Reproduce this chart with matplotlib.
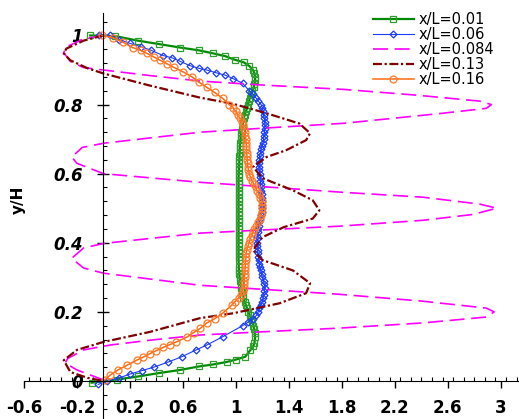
import matplotlib
matplotlib.use('Agg')
import matplotlib.pyplot as plt
import numpy as np
from matplotlib.ticker import MultipleLocator, FormatStrFormatter

# x/L = 0.01
x1 = [-0.1, 0.09, 0.26, 0.42, 0.58, 0.72, 0.83, 0.92, 0.99, 1.06, 1.1, 1.13, 1.14, 1.145, 1.145,
      1.14, 1.135, 1.125, 1.115, 1.105, 1.1, 1.09, 1.085, 1.075, 1.065, 1.06, 1.055, 1.05, 1.045, 1.04,
      1.038, 1.035, 1.033, 1.03, 1.03, 1.028, 1.027, 1.026, 1.025, 1.024, 1.023, 1.022, 1.02, 1.02, 1.02,
      1.02, 1.02, 1.02, 1.02, 1.02, 1.02, 1.02, 1.02, 1.02, 1.02, 1.02, 1.02, 1.02, 1.02, 1.02,
      1.02, 1.02, 1.02, 1.02, 1.02, 1.02, 1.02, 1.022, 1.024, 1.026, 1.028, 1.032, 1.036, 1.04, 1.045,
      1.05, 1.057, 1.065, 1.075, 1.085, 1.095, 1.105, 1.115, 1.125, 1.132, 1.138, 1.142, 1.145, 1.14, 1.13,
      1.11, 1.07, 1.0, 0.93, 0.83, 0.72, 0.58, 0.42, 0.26, 0.1, -0.09]
y1 = [1.0, 0.998, 0.985, 0.975, 0.965, 0.957, 0.948, 0.94, 0.93, 0.922, 0.912, 0.9, 0.89, 0.88, 0.87,
      0.86, 0.85, 0.84, 0.83, 0.82, 0.81, 0.8, 0.79, 0.78, 0.77, 0.76, 0.75, 0.74, 0.73, 0.72,
      0.71, 0.7, 0.69, 0.68, 0.67, 0.66, 0.65, 0.64, 0.63, 0.62, 0.61, 0.6, 0.59, 0.58, 0.57,
      0.56, 0.55, 0.54, 0.53, 0.52, 0.51, 0.5, 0.49, 0.48, 0.47, 0.46, 0.45, 0.44, 0.43, 0.42,
      0.41, 0.4, 0.39, 0.38, 0.37, 0.36, 0.35, 0.33, 0.32, 0.31, 0.3, 0.29, 0.28, 0.27, 0.26,
      0.25, 0.24, 0.23, 0.22, 0.21, 0.2, 0.19, 0.18, 0.17, 0.16, 0.15, 0.14, 0.127, 0.11, 0.1,
      0.09, 0.07, 0.062, 0.055, 0.048, 0.042, 0.032, 0.023, 0.013, 0.004, -0.005]

# x/L = 0.06
x2 = [-0.03, 0.05, 0.12, 0.2, 0.28, 0.36, 0.45, 0.52, 0.58, 0.65, 0.72, 0.78, 0.85, 0.92, 0.98, 1.05,
      1.1, 1.13, 1.15, 1.17, 1.19, 1.2, 1.205, 1.21, 1.215, 1.22, 1.22, 1.218, 1.215, 1.212, 1.21,
      1.205, 1.198, 1.19, 1.185, 1.18, 1.178, 1.176, 1.175, 1.177, 1.18, 1.182, 1.184, 1.186, 1.188, 1.19,
      1.195, 1.198, 1.2, 1.2, 1.2, 1.195, 1.19, 1.185, 1.178, 1.172, 1.168, 1.164, 1.161, 1.16, 1.16,
      1.162, 1.165, 1.167, 1.17, 1.172, 1.176, 1.18, 1.188, 1.195, 1.2, 1.21, 1.215, 1.22, 1.215, 1.21,
      1.205, 1.198, 1.188, 1.178, 1.168, 1.155, 1.13, 1.09, 1.05, 0.9, 0.78, 0.7, 0.59, 0.49, 0.38,
      0.29, 0.2, 0.12, 0.03, -0.04]
y2 = [1.0, 1.0, 0.988, 0.977, 0.968, 0.957, 0.942, 0.935, 0.925, 0.913, 0.905, 0.9, 0.892, 0.885, 0.875, 0.862,
      0.84, 0.83, 0.82, 0.81, 0.8, 0.79, 0.78, 0.77, 0.76, 0.75, 0.74, 0.73, 0.72, 0.71, 0.7,
      0.69, 0.68, 0.67, 0.66, 0.65, 0.64, 0.63, 0.62, 0.61, 0.6, 0.59, 0.58, 0.57, 0.56, 0.55,
      0.54, 0.53, 0.52, 0.51, 0.5, 0.49, 0.48, 0.47, 0.46, 0.45, 0.44, 0.43, 0.42, 0.41, 0.4,
      0.39, 0.38, 0.37, 0.36, 0.35, 0.34, 0.33, 0.32, 0.31, 0.3, 0.29, 0.28, 0.27, 0.26, 0.25,
      0.24, 0.23, 0.22, 0.21, 0.2, 0.19, 0.18, 0.17, 0.16, 0.128, 0.104, 0.09, 0.07, 0.055, 0.04,
      0.03, 0.02, 0.009, 0.0, -0.01]

# x/L = 0.084
x3 = [0.0, -0.15, -0.28, -0.3, -0.25, -0.15, 0.0, 0.35, 0.73, 1.18, 1.81, 2.37, 2.84, 2.93, 2.89, 2.54,
      1.82, 1.18, 0.73, 0.0, -0.16, -0.24, -0.2, 0.0, 0.73, 1.18, 1.81, 2.41, 2.84, 2.97, 2.79, 2.41,
      1.78, 0.73, 0.0, -0.15, -0.24, -0.15, 0.0, 0.73, 1.78, 2.41, 2.89, 2.95, 2.89, 2.41, 1.78, 1.18,
      0.73, 0.35, 0.05, -0.15, -0.27, -0.29, -0.2, 0.0]
y3 = [1.0, 0.99, 0.967, 0.95, 0.925, 0.907, 0.9, 0.884, 0.868, 0.857, 0.844, 0.827, 0.81, 0.8, 0.789, 0.774,
      0.746, 0.731, 0.72, 0.688, 0.676, 0.648, 0.63, 0.6, 0.575, 0.563, 0.546, 0.532, 0.512, 0.5, 0.482, 0.465,
      0.448, 0.428, 0.398, 0.385, 0.355, 0.327, 0.312, 0.277, 0.251, 0.231, 0.211, 0.2, 0.185, 0.168, 0.153, 0.142,
      0.133, 0.118, 0.104, 0.09, 0.065, 0.052, 0.032, 0.003]

# x/L = 0.13
x4 = [0.0, -0.15, -0.28, -0.3, -0.25, -0.12, 0.0, 0.35, 0.73, 0.98, 1.23, 1.48, 1.56, 1.53, 1.38, 1.23,
      1.13, 1.2, 1.43, 1.58, 1.63, 1.58, 1.36, 1.2, 1.13, 1.2, 1.43, 1.56, 1.53, 1.33, 0.98, 0.73,
      0.35, 0.0, -0.2, -0.3, -0.25, -0.12, 0.0]
y4 = [1.0, 0.985, 0.962, 0.948, 0.928, 0.905, 0.89, 0.855, 0.82, 0.802, 0.775, 0.745, 0.717, 0.697, 0.668, 0.648,
      0.62, 0.587, 0.552, 0.523, 0.494, 0.47, 0.445, 0.416, 0.378, 0.35, 0.32, 0.283, 0.254, 0.225, 0.196, 0.182,
      0.142, 0.113, 0.09, 0.06, 0.026, 0.009, 0.0]

# x/L = 0.16
x5 = [-0.01, 0.07, 0.15, 0.22, 0.28, 0.33, 0.38, 0.43, 0.48, 0.53, 0.6, 0.67, 0.72, 0.78, 0.84, 0.9,
      0.95, 0.98, 1.0, 1.015, 1.03, 1.045, 1.055, 1.062, 1.068, 1.072, 1.075, 1.077, 1.079, 1.08, 1.082,
      1.084, 1.086, 1.088, 1.09, 1.095, 1.1, 1.11, 1.12, 1.135, 1.148, 1.16, 1.175, 1.185, 1.195, 1.2,
      1.2, 1.195, 1.188, 1.18, 1.168, 1.155, 1.14, 1.127, 1.118, 1.108, 1.1, 1.09, 1.082, 1.078, 1.076,
      1.074, 1.072, 1.07, 1.068, 1.067, 1.065, 1.064, 1.062, 1.058, 1.05, 1.04, 1.02, 0.995, 0.97, 0.9,
      0.84, 0.78, 0.73, 0.68, 0.63, 0.55, 0.5, 0.45, 0.4, 0.35, 0.3, 0.25, 0.18, 0.11, 0.05, 0.01]
y5 = [1.0, 0.994, 0.98, 0.965, 0.957, 0.948, 0.938, 0.928, 0.918, 0.908, 0.895, 0.88, 0.865, 0.85, 0.835, 0.818,
      0.8, 0.79, 0.78, 0.77, 0.76, 0.75, 0.74, 0.73, 0.72, 0.71, 0.7, 0.69, 0.68, 0.67, 0.66,
      0.65, 0.64, 0.63, 0.62, 0.61, 0.6, 0.59, 0.58, 0.57, 0.56, 0.55, 0.54, 0.53, 0.52, 0.51,
      0.5, 0.49, 0.48, 0.47, 0.46, 0.45, 0.44, 0.43, 0.42, 0.41, 0.4, 0.39, 0.38, 0.37, 0.36,
      0.35, 0.34, 0.33, 0.32, 0.31, 0.3, 0.29, 0.28, 0.27, 0.26, 0.25, 0.24, 0.23, 0.22, 0.196,
      0.18, 0.168, 0.152, 0.14, 0.127, 0.113, 0.105, 0.097, 0.088, 0.079, 0.069, 0.06, 0.046, 0.032, 0.017, 0.003]

labels = ['x/L=0.01', 'x/L=0.06', 'x/L=0.084', 'x/L=0.13', 'x/L=0.16']

fig = plt.figure(figsize=(5.19, 4.19), dpi=100)
ax = fig.add_axes([24 / 519, 0.0, 494 / 519, 406 / 419])

ax.plot(x1, y1, color='#008a00', lw=1.6, marker='s', ms=4.5, mfc='none', mec='#2e9e2e', mew=0.9, label=labels[0])
ax.plot(x2, y2, color='#1a3cff', lw=0.8, marker='D', ms=3.5, mfc='none', mec='#1a3cff', mew=0.9, label=labels[1])
ax.plot(x3, y3, color='#ff00ff', lw=1.2, dashes=(9, 4), label=labels[2])
ax.plot(x4, y4, color='#800000', lw=1.6, dashes=(4, 1.2, 1, 1.2), label=labels[3])
ax.plot(x5, y5, color='#ff6a10', lw=1.1, marker='o', ms=5, mfc='none', mec='#ff7a2a', mew=0.9, label=labels[4])

ax.set_xlim(-0.6, 3.13)
ax.set_ylim(-0.11, 1.065)

for s in ['top', 'right']:
    ax.spines[s].set_visible(False)
ax.spines['left'].set_position(('data', 0))
ax.spines['bottom'].set_position(('data', 0))

ax.xaxis.set_major_locator(MultipleLocator(0.4, offset=0.2))
ax.xaxis.set_minor_locator(MultipleLocator(0.08))
ax.yaxis.set_major_locator(MultipleLocator(0.2))
ax.yaxis.set_minor_locator(MultipleLocator(0.04))
ax.xaxis.set_major_formatter(FormatStrFormatter('%g'))
ax.yaxis.set_major_formatter(FormatStrFormatter('%g'))

ax.tick_params(axis='x', which='major', direction='out', length=5, width=1, pad=8)
ax.tick_params(axis='x', which='minor', direction='in', length=3, width=0.8)
ax.tick_params(axis='y', which='major', direction='inout', length=8, width=1, pad=11)
ax.tick_params(axis='y', which='minor', direction='in', length=3, width=0.8)

for t in ax.get_xticklabels():
    t.set_fontsize(12)
    t.set_fontweight('bold')
for t in ax.get_yticklabels():
    t.set_fontsize(12)
    t.set_fontweight('bold')
    t.set_fontstyle('italic')

fig.text(18 / 519, 1 - 200 / 419, 'y/H', rotation=90, fontsize=11, fontweight='bold', ha='center', va='center')

ax.legend(loc='upper left', bbox_to_anchor=(373 / 519, 1 - 12 / 419), bbox_transform=fig.transFigure,
          frameon=False, fontsize=10.5, handlelength=2.8, handletextpad=0.3, labelspacing=0.0,
          borderpad=0, borderaxespad=0)

fig.savefig('out.png', dpi=100)
